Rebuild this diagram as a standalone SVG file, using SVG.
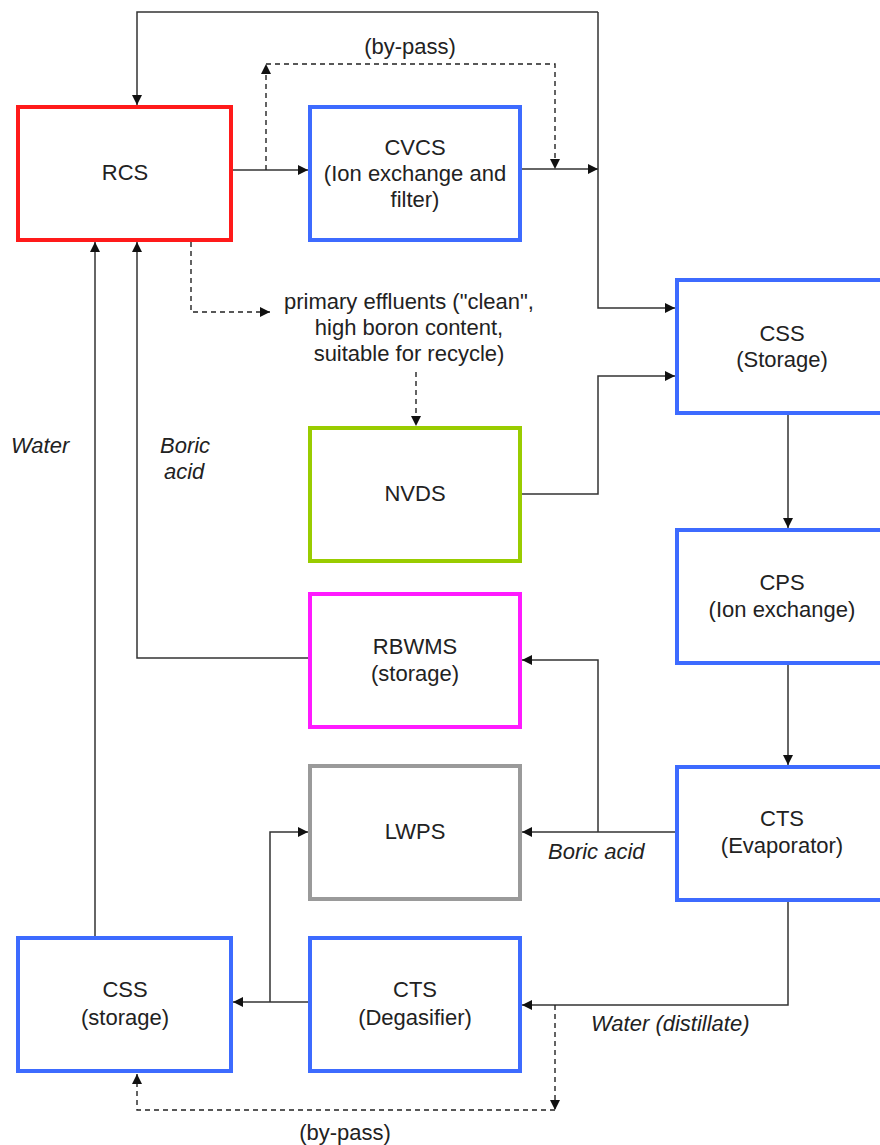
<svg xmlns="http://www.w3.org/2000/svg" width="880" height="1145" viewBox="0 0 880 1145">
<defs>
<marker id="arr" viewBox="0 0 10 10" refX="10" refY="5" markerWidth="12" markerHeight="10" markerUnits="userSpaceOnUse" orient="auto"><path d="M0,0 L10,5 L0,10 z" fill="#111"/></marker>
<style>
.box{fill:#fff;stroke-width:4}
.t{font-family:"Liberation Sans",Arial,sans-serif;font-size:22px;fill:#222;text-anchor:middle}
.i{font-family:"Liberation Sans",Arial,sans-serif;font-size:22px;fill:#222;font-style:italic}
.ln{fill:none;stroke:#333;stroke-width:1.5}
.dl{fill:none;stroke:#222;stroke-width:1.4;stroke-dasharray:5 4}
</style>
</defs>
<rect width="880" height="1145" fill="#fff"/>
<g id="connectors">
<path class="ln" d="M233,170 H308" marker-end="url(#arr)"/>
<path class="ln" d="M522,169 H598" marker-end="url(#arr)"/>
<path class="ln" d="M598,12 H137 V105" marker-end="url(#arr)"/>
<path class="ln" d="M598,12 V308 H675" marker-end="url(#arr)"/>
<path class="dl" d="M266,170 V64" marker-end="url(#arr)"/>
<path class="dl" d="M266,64 H555 V169" marker-end="url(#arr)"/>
<path class="dl" d="M191,242 V312 H270" marker-end="url(#arr)"/>
<path class="dl" d="M416,372 V426" marker-end="url(#arr)"/>
<path class="ln" d="M522,494 H598 V376 H675" marker-end="url(#arr)"/>
<path class="ln" d="M788,415 V528" marker-end="url(#arr)"/>
<path class="ln" d="M788,665 V765" marker-end="url(#arr)"/>
<path class="ln" d="M675,832 H522" marker-end="url(#arr)"/>
<path class="ln" d="M598,832 V660 H522" marker-end="url(#arr)"/>
<path class="ln" d="M788,902 V1005 H522" marker-end="url(#arr)"/>
<path class="dl" d="M555,1005 V1110" marker-end="url(#arr)"/>
<path class="dl" d="M555,1110 H137 V1074" marker-end="url(#arr)"/>
<path class="ln" d="M308,1002 H233" marker-end="url(#arr)"/>
<path class="ln" d="M270,1002 V832 H308" marker-end="url(#arr)"/>
<path class="ln" d="M308,658 H137 V242" marker-end="url(#arr)"/>
<path class="ln" d="M95,936 V242" marker-end="url(#arr)"/>
<text class="t" x="410" y="54">(by-pass)</text>
<text class="t" x="409" y="309">primary effluents ("clean",</text>
<text class="t" x="409" y="335">high boron content,</text>
<text class="t" x="409" y="361">suitable for recycle)</text>
<text class="i" x="11" y="453">Water</text>
<text class="i" x="160" y="453">Boric</text>
<text class="i" x="164" y="479">acid</text>
<text class="i" x="548" y="859">Boric acid</text>
<text class="i" x="591" y="1031">Water (distillate)</text>
<text class="t" x="345" y="1140">(by-pass)</text>
</g>
<g id="RCS"><rect class="box" x="18" y="107" width="213" height="133" stroke="#ff1a1a"/><text class="t" x="125" y="180">RCS</text></g>
<g id="CVCS"><rect class="box" x="310" y="107" width="210" height="133" stroke="#3d6bff"/><text class="t" x="415" y="155">CVCS</text><text class="t" x="415" y="181">(Ion exchange and</text><text class="t" x="415" y="207">filter)</text></g>
<g id="CSS-storage-top"><rect class="box" x="677" y="280" width="215" height="133" stroke="#3d6bff"/><text class="t" x="782" y="341">CSS</text><text class="t" x="782" y="367">(Storage)</text></g>
<g id="NVDS"><rect class="box" x="310" y="428" width="210" height="133" stroke="#99cc00"/><text class="t" x="415" y="501">NVDS</text></g>
<g id="CPS"><rect class="box" x="677" y="530" width="215" height="133" stroke="#3d6bff"/><text class="t" x="782" y="590">CPS</text><text class="t" x="782" y="617">(Ion exchange)</text></g>
<g id="RBWMS"><rect class="box" x="310" y="594" width="210" height="133" stroke="#ff1aff"/><text class="t" x="415" y="654">RBWMS</text><text class="t" x="415" y="681">(storage)</text></g>
<g id="LWPS"><rect class="box" x="310" y="766" width="210" height="133" stroke="#9a9a9a"/><text class="t" x="415" y="839">LWPS</text></g>
<g id="CTS-evaporator"><rect class="box" x="677" y="767" width="215" height="133" stroke="#3d6bff"/><text class="t" x="782" y="826">CTS</text><text class="t" x="782" y="853">(Evaporator)</text></g>
<g id="CSS-storage-bottom"><rect class="box" x="18" y="938" width="213" height="133" stroke="#3d6bff"/><text class="t" x="125" y="997">CSS</text><text class="t" x="125" y="1025">(storage)</text></g>
<g id="CTS-degasifier"><rect class="box" x="310" y="938" width="210" height="133" stroke="#3d6bff"/><text class="t" x="415" y="997">CTS</text><text class="t" x="415" y="1025">(Degasifier)</text></g>
</svg>
